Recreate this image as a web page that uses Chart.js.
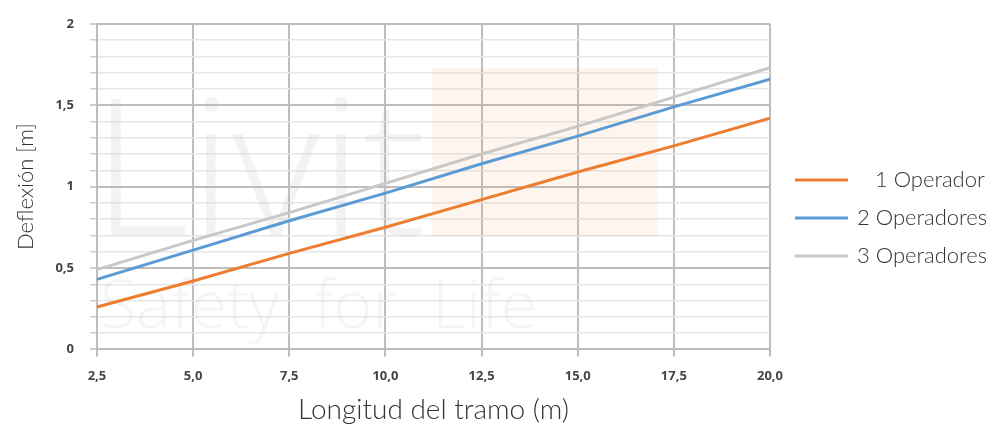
<!DOCTYPE html>
<html>
<head>
<meta charset="utf-8">
<script src="https://cdn.jsdelivr.net/npm/chart.js@4.4.1/dist/chart.umd.min.js"></script>
<style>
  html, body { margin: 0; padding: 0; background: #fff; }
  #wrap { width: 994px; height: 428px; position: relative; }
</style>
</head>
<body>
<div id="wrap"><canvas id="deflexionChart"></canvas></div>
<script>
// Longitud del tramo (m)
const tramos = [2.5, 5.0, 7.5, 10.0, 12.5, 15.0, 17.5, 20.0];
// Deflexión [m] per number of operators
const unOperador = [0.26, 0.42, 0.59, 0.75, 0.92, 1.09, 1.25, 1.42];
const dosOperadores = [0.43, 0.61, 0.79, 0.96, 1.14, 1.31, 1.49, 1.66];
const tresOperadores = [0.49, 0.67, 0.84, 1.02, 1.20, 1.37, 1.55, 1.73];
const seriesNames = ['   1 Operador', '2 Operadores', '3 Operadores'];

const fmtComma = (v, digits) => v.toFixed(digits).replace('.', ',');

function toPoints(values) {
    return values.map((v, i) => ({ x: tramos[i], y: v }));
}

// faint logo watermark behind the lines
const watermark = {
    id: 'watermark',
    beforeDatasetsDraw(chart) {
        const { ctx } = chart;
        ctx.save();
        ctx.fillStyle = 'rgba(245, 160, 110, 0.11)';
        ctx.fillRect(432, 68, 226, 168);
        ctx.fillStyle = 'rgba(190, 190, 190, 0.18)';
        ctx.font = '200 190px "Open Sans", sans-serif';
        ctx.textBaseline = 'alphabetic';
        ctx.fillText('Livit', 92, 235);
        ctx.font = '200 66px "Open Sans", sans-serif';
        ctx.fillStyle = 'rgba(190, 190, 190, 0.16)';
        ctx.fillText('Safety  for  Life', 100, 328);
        ctx.restore();
    }
};

// legend on the right, drawn from the datasets (Excel style, right of the plot)
const sideLegend = {
    id: 'sideLegend',
    afterDraw(chart) {
        const { ctx, chartArea } = chart;
        const x0 = chartArea.right + 25;
        const rowH = 38;
        const sets = chart.data.datasets;
        const yMid = 218;
        ctx.save();
        ctx.font = '300 22px Lato, sans-serif';
        ctx.textBaseline = 'middle';
        sets.forEach((ds, i) => {
            const y = yMid + (i - (sets.length - 1) / 2) * rowH;
            ctx.strokeStyle = ds.borderColor;
            ctx.lineWidth = 3;
            ctx.beginPath();
            ctx.moveTo(x0, y);
            ctx.lineTo(x0 + 53, y);
            ctx.stroke();
            ctx.fillStyle = '#333';
            ctx.fillText(ds.label, x0 + 62, y);
        });
        ctx.restore();
    }
};

const ctx = document.getElementById('deflexionChart').getContext('2d');
new Chart(ctx, {
    type: 'line',
    data: {
        datasets: [
            { label: seriesNames[0], data: toPoints(unOperador), borderColor: '#ED7D31', backgroundColor: '#ED7D31' },
            { label: seriesNames[1], data: toPoints(dosOperadores), borderColor: '#5B9BD5', backgroundColor: '#5B9BD5' },
            { label: seriesNames[2], data: toPoints(tresOperadores), borderColor: '#C8C8C8', backgroundColor: '#C8C8C8' }
        ]
    },
    options: {
        responsive: true,
        maintainAspectRatio: false,
        animation: false,
        elements: {
            line: { borderWidth: 3, tension: 0 },
            point: { radius: 0 }
        },
        layout: { padding: { left: 5, right: 224, top: 23, bottom: 4 } },
        plugins: {
            legend: { display: false },
            tooltip: { enabled: false }
        },
        scales: {
            x: {
                type: 'linear',
                min: 2.5,
                max: 20,
                ticks: {
                    stepSize: 2.5,
                    color: '#444',
                    font: { family: 'Open Sans', size: 13, weight: 'bold' },
                    padding: 12,
                    callback: (v) => fmtComma(v, 1)
                },
                grid: { color: '#BDBDBD', lineWidth: 2, tickLength: 7 },
                border: { color: '#BDBDBD', width: 2 },
                title: {
                    display: true,
                    text: 'Longitud del tramo (m)',
                    color: '#333',
                    font: { family: 'Lato', size: 28, weight: 300, lineHeight: 1 },
                    padding: { top: 0, bottom: 0 }
                }
            },
            y: {
                min: 0,
                max: 2,
                ticks: {
                    stepSize: 0.1,
                    autoSkip: false,
                    color: '#444',
                    font: { family: 'Open Sans', size: 13, weight: 'bold' },
                    padding: 16,
                    callback: (v) => {
                        const r = Math.round(v * 10);
                        if (r % 5 !== 0) return '';
                        return r % 10 === 0 ? String(r / 10) : fmtComma(r / 10, 1);
                    }
                },
                grid: {
                    color: (c) => Math.round(c.tick.value * 10) % 5 === 0 ? '#BDBDBD' : '#E6E6E6',
                    lineWidth: (c) => Math.round(c.tick.value * 10) % 5 === 0 ? 2 : 1.5,
                    tickLength: 7,
                    tickColor: '#CFCFCF'
                },
                border: { color: '#BDBDBD', width: 2 },
                title: {
                    display: true,
                    text: 'Deflexión [m]',
                    color: '#333',
                    font: { family: 'Lato', size: 22, weight: 300 },
                    padding: { top: 8, bottom: 0 }
                }
            }
        }
    },
    plugins: [watermark, sideLegend]
});
</script>
</body>
</html>
